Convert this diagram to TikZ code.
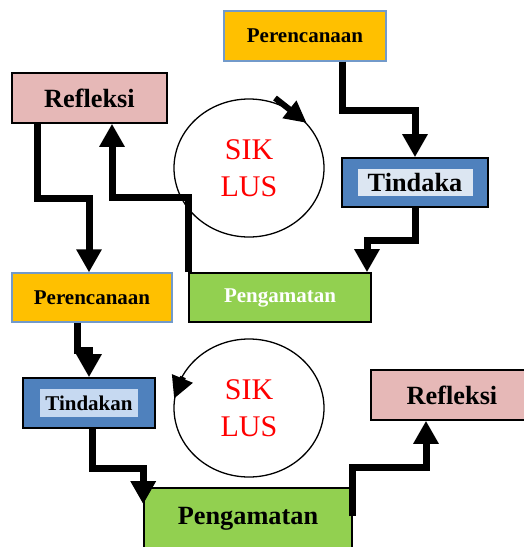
\documentclass[tikz,border=0pt]{standalone}
\usepackage{fontspec}
\setmainfont{Liberation Serif}
\usetikzlibrary{arrows.meta,calc,shapes.geometric}

\definecolor{orangebox}{HTML}{FFC000}
\definecolor{pinkbox}{HTML}{E6B8B7}
\definecolor{bluebox}{HTML}{4F81BD}
\definecolor{greenbox}{HTML}{92D050}
\definecolor{hilitea}{HTML}{DCE6F2}
\definecolor{hiliteb}{HTML}{C6D9F1}

\begin{document}
\begin{tikzpicture}[x=1pt,y=-1pt,
    box/.style={draw=black,line width=1.6pt,inner sep=0pt,font=\bfseries},
    planbox/.style={box,draw=bluebox!80,line width=1.2pt,fill=orangebox},
    reflbox/.style={box,fill=pinkbox},
    actbox/.style={box,fill=bluebox},
    obsbox/.style={box,fill=greenbox},
    hlbox/.style={inner sep=0pt,font=\bfseries},
    cyc/.style={draw,ellipse,line width=1.3pt,minimum width=150pt,minimum height=138pt,
      inner sep=0pt,text=red,align=center,font=\fontsize{30}{37}\selectfont},
    flow/.style={line width=7pt,-{Triangle[width=24pt,length=23pt]}},
    cycflow/.style={line width=6pt,-{Triangle[width=21pt,length=22pt]}},
    big/.style={font=\bfseries\fontsize{26.3}{30}\selectfont},
    small/.style={font=\bfseries\fontsize{21}{24}\selectfont}]
  \useasboundingbox (0,0) rectangle (524,547);
  \clip (0,0) rectangle (524,547);

  % first cycle
  \node[planbox,small,minimum width=162pt,minimum height=50pt] (perA) at (305,36) {Perencanaan};
  \node[actbox,minimum width=146pt,minimum height=49pt] (tinA) at (415,182.5) {};
  \node[hlbox,big,fill=hilitea,minimum width=115pt,minimum height=27pt] (tinAtxt) at (tinA) {Tindaka};
  \node[obsbox,small,text=white,minimum width=182pt,minimum height=49pt] (pengA) at (280,297.5) {Pengamatan};
  \node[reflbox,big,minimum width=155pt,minimum height=50pt] (refA) at (89.5,98) {Refleksi};
  \node[cyc] (cycA) at (249,168) {SIK\\LUS};

  \draw[flow] ([xshift=37pt]perA.south) -- ++(0,49) -| (tinA.north);
  \draw[flow] (tinA.south) -- ++(0,33) -| ([xshift=87pt]pengA.north);
  \draw[flow] (pengA.north west) -- ++(0,-75) -| ([xshift=22.5pt]refA.south);
  \draw[cycflow] ($(cycA.center)+(26,-70)$) -- (cycA.38);

  % second cycle
  \node[planbox,small,minimum width=160pt,minimum height=49pt] (perB) at (92,297.5) {Perencanaan};
  \node[actbox,minimum width=132pt,minimum height=50pt] (tinB) at (89,403) {};
  \node[hlbox,small,fill=hiliteb,minimum width=98pt,minimum height=28pt] (tinBtxt) at (tinB) {Tindakan};
  \node[obsbox,big,minimum width=208pt,minimum height=62pt] (pengB) at (248,519) {Pengamatan};
  \node[reflbox,big,minimum width=162pt,minimum height=50pt] (refB) at (452,395) {Refleksi};
  \node[cyc] (cycB) at (249,408) {SIK\\LUS};

  \draw[flow] ([xshift=-52pt]refA.south) -- ++(0,75) -| ([xshift=-3pt]perB.north);
  \draw[flow] ([xshift=-15pt]perB.south) -- ++(0,28) -| (tinB.north);
  \draw[flow] ([xshift=3pt]tinB.south) -- ++(0,40) -| ($(pengB.north west)+(0,17)$);
  \draw[flow] ($(pengB.north east)+(0,29)$) -- ++(0,-49) -| ([xshift=-26pt]refB.south);
  \draw[cycflow] ($(cycB.center)+(-66,-31)$) -- (cycB.173);
\end{tikzpicture}
\end{document}
